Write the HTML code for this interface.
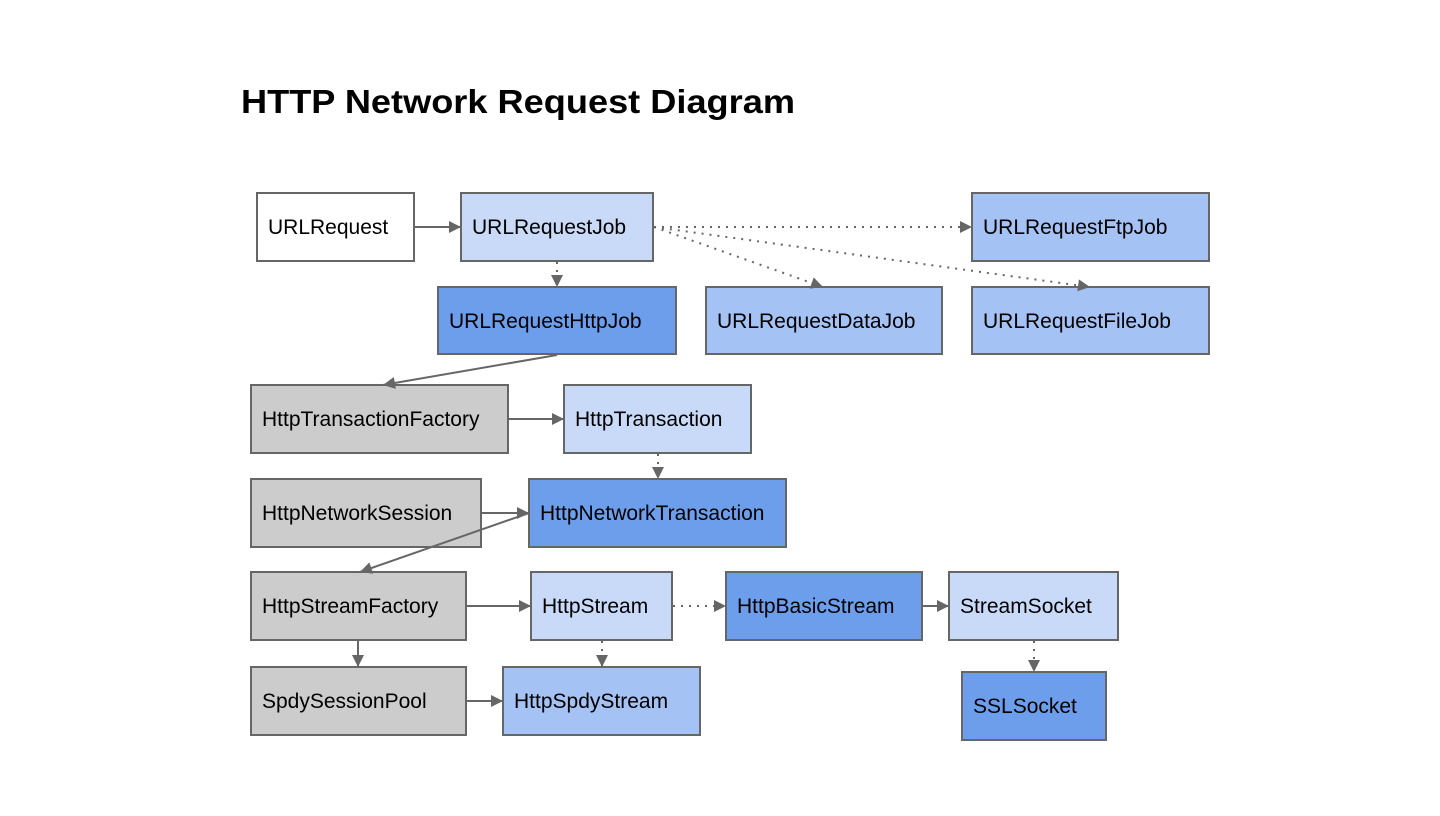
<!DOCTYPE html>
<html><head><meta charset="utf-8"><style>
html,body{margin:0;padding:0;background:#fff;}
svg{display:block;}
text{font-family:"Liberation Sans",Arial,sans-serif;}
</style></head><body>
<svg width="1440" height="816" viewBox="0 0 1440 816" xmlns="http://www.w3.org/2000/svg">
<defs>
<marker id="a" viewBox="0 0 10 10" refX="10" refY="5" markerWidth="14" markerHeight="12" markerUnits="userSpaceOnUse" orient="auto">
<path d="M0,0 L10,5 L0,10 z" fill="#666"/></marker>
</defs>
<text x="241" y="113" font-size="33" font-weight="bold" fill="#000" textLength="554" lengthAdjust="spacingAndGlyphs">HTTP Network Request Diagram</text>
<g stroke="#666" stroke-width="2">
<rect x="257" y="193" width="157" height="68" fill="#ffffff"/>
<rect x="461" y="193" width="192" height="68" fill="#c9daf8"/>
<rect x="972" y="193" width="237" height="68" fill="#a4c2f4"/>
<rect x="438" y="287" width="238" height="67" fill="#6d9eeb"/>
<rect x="706" y="287" width="236" height="67" fill="#a4c2f4"/>
<rect x="972" y="287" width="237" height="67" fill="#a4c2f4"/>
<rect x="251" y="385" width="257" height="68" fill="#cccccc"/>
<rect x="564" y="385" width="187" height="68" fill="#c9daf8"/>
<rect x="251" y="479" width="230" height="68" fill="#cccccc"/>
<rect x="529" y="479" width="257" height="68" fill="#6d9eeb"/>
<rect x="251" y="572" width="215" height="68" fill="#cccccc"/>
<rect x="531" y="572" width="141" height="68" fill="#c9daf8"/>
<rect x="726" y="572" width="196" height="68" fill="#6d9eeb"/>
<rect x="949" y="572" width="169" height="68" fill="#c9daf8"/>
<rect x="251" y="667" width="215" height="68" fill="#cccccc"/>
<rect x="503" y="667" width="197" height="68" fill="#a4c2f4"/>
<rect x="962" y="672" width="144" height="68" fill="#6d9eeb"/>
</g>
<g font-size="21" fill="#000">
<text x="268" y="234">URLRequest</text>
<text x="472" y="234">URLRequestJob</text>
<text x="983" y="234">URLRequestFtpJob</text>
<text x="449" y="328">URLRequestHttpJob</text>
<text x="717" y="328">URLRequestDataJob</text>
<text x="983" y="328">URLRequestFileJob</text>
<text x="262" y="426">HttpTransactionFactory</text>
<text x="575" y="426">HttpTransaction</text>
<text x="262" y="520">HttpNetworkSession</text>
<text x="540" y="520">HttpNetworkTransaction</text>
<text x="262" y="613">HttpStreamFactory</text>
<text x="542" y="613">HttpStream</text>
<text x="737" y="613">HttpBasicStream</text>
<text x="960" y="613">StreamSocket</text>
<text x="262" y="708">SpdySessionPool</text>
<text x="514" y="708">HttpSpdyStream</text>
<text x="973" y="713">SSLSocket</text>
</g>
<g stroke="#666" stroke-width="2" fill="none" marker-end="url(#a)">
<line x1="415" y1="227" x2="461" y2="227"/>
<line x1="557" y1="355" x2="383" y2="385"/>
<line x1="509" y1="419" x2="564" y2="419"/>
<line x1="482" y1="513" x2="529" y2="513"/>
<line x1="529" y1="513" x2="360" y2="572"/>
<line x1="467" y1="606" x2="531" y2="606"/>
<line x1="923" y1="606" x2="949" y2="606"/>
<line x1="358" y1="641" x2="358" y2="667"/>
<line x1="467" y1="701" x2="503" y2="701"/>
</g>
<g stroke="#666" stroke-width="2" fill="none" stroke-dasharray="2,6" marker-end="url(#a)">
<line x1="557" y1="262" x2="557" y2="287"/>
<line x1="654" y1="227" x2="972" y2="227"/>
<line x1="654" y1="227" x2="823" y2="287"/>
<line x1="654" y1="227" x2="1090" y2="287"/>
<line x1="658" y1="454" x2="658" y2="479"/>
<line x1="673" y1="606" x2="726" y2="606"/>
<line x1="1034" y1="641" x2="1034" y2="672"/>
<line x1="602" y1="641" x2="602" y2="667"/>
</g>
</svg>
</body></html>
